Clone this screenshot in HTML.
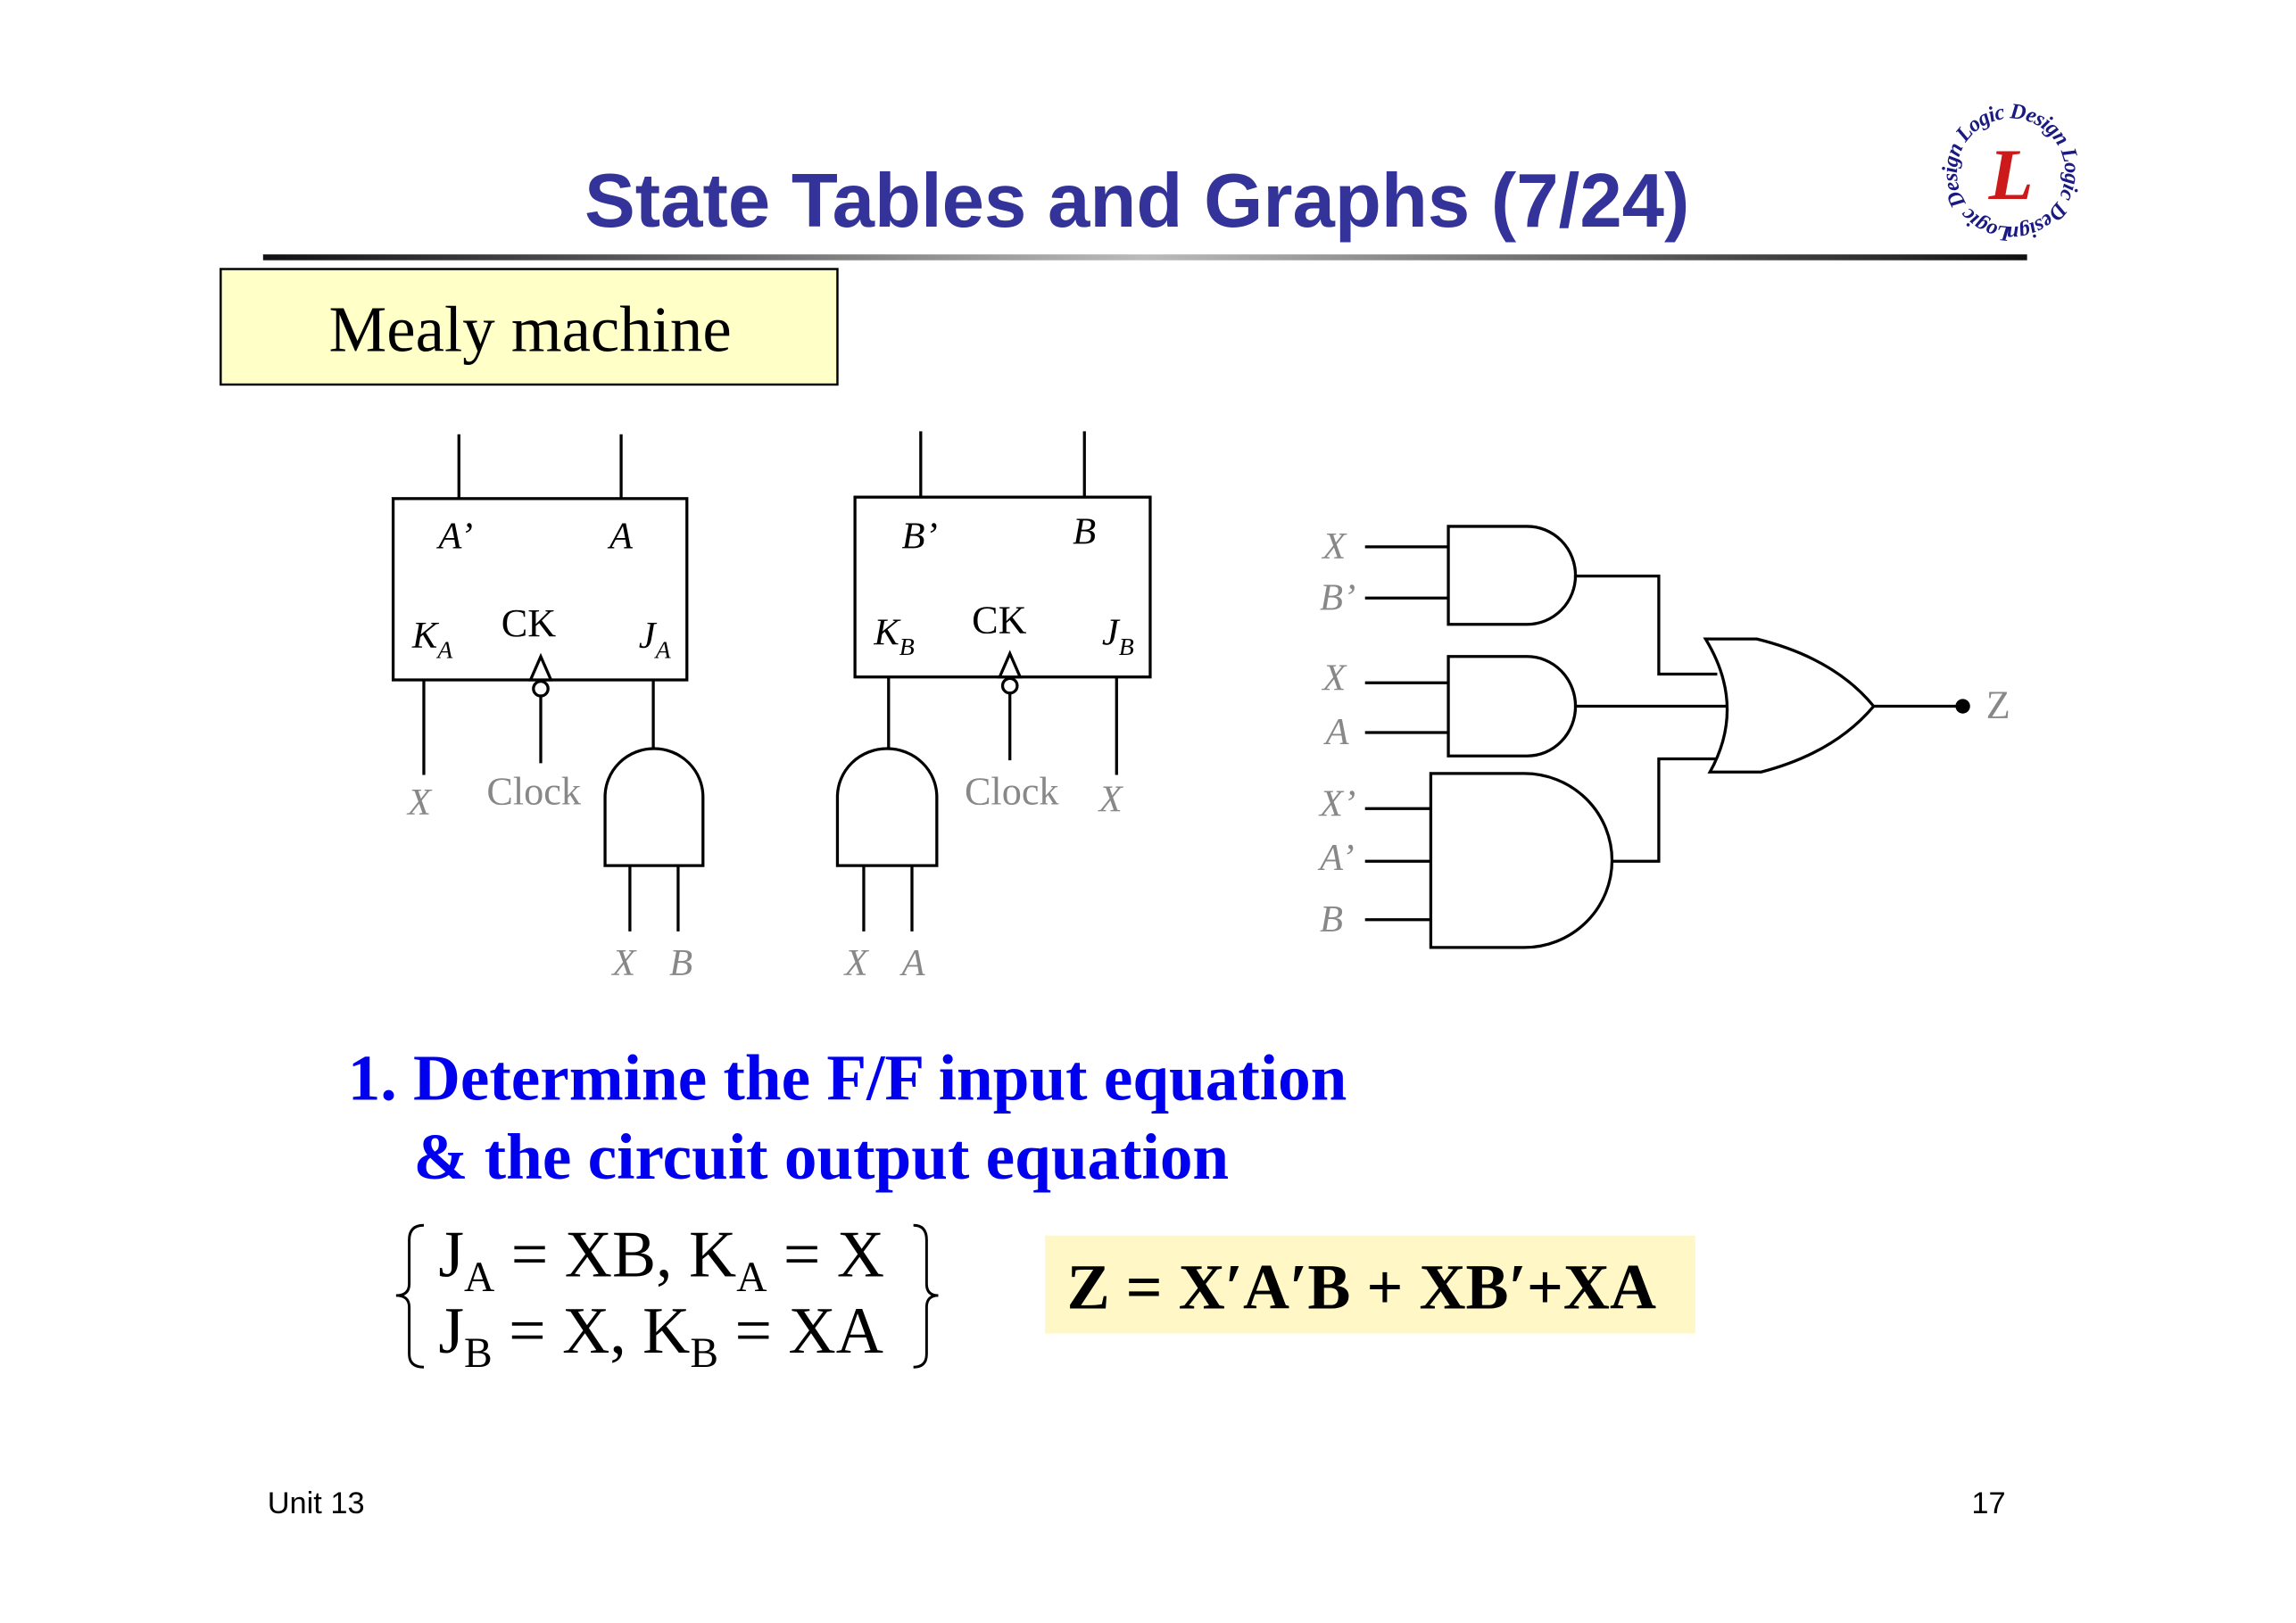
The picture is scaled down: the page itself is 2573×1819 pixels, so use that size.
<!DOCTYPE html>
<html><head><style>html,body{margin:0;padding:0;background:#fff}svg{display:block}</style></head><body>
<svg width="2573" height="1819" viewBox="0 0 1571 1110" xmlns="http://www.w3.org/2000/svg" preserveAspectRatio="none">
<defs><linearGradient id="g" x1="0" x2="1"><stop offset="0" stop-color="#111"/><stop offset="0.5" stop-color="#bbb"/><stop offset="1" stop-color="#111"/></linearGradient>
<path id="ring" d="M1376 155A37 37 0 1 1 1376 81A37 37 0 1 1 1376 155"/></defs>
<rect width="1571" height="1110" fill="#fff"/>
<text x="778" y="155" text-anchor="middle" font-family="Liberation Sans, sans-serif" font-weight="bold" font-size="52" fill="#333399">State Tables and Graphs (7/24)</text>
<rect x="180" y="174" width="1207" height="4" fill="url(#g)"/>
<!-- logo -->
<g font-family="Liberation Serif, serif" font-style="italic" fill="#1a1a80">
<text x="1376" y="136" text-anchor="middle" font-size="50" fill="#cc1a1a" font-weight="bold">L</text>
<text font-size="15" font-weight="bold" letter-spacing="-0.5"><textPath href="#ring">Logic Design Logic Design Logic Design</textPath></text>
</g>
<rect x="151" y="184" width="422" height="79" fill="#ffffc8" stroke="#000" stroke-width="1.5"/>
<text x="225" y="240" font-family="Liberation Serif, serif" font-size="44.5">Mealy machine</text>
<g stroke="#000" stroke-width="2" fill="none">
<rect x="269" y="341" width="201" height="124"/>
<path d="M314 297V341M425 297V341M290 465V530M370 476V522M447 465V512"/>
<path d="M363 465L370 449L377 465Z" fill="#fff"/><circle cx="370" cy="471" r="5" fill="#fff"/>
<path d="M414 592V545A33.5 33 0 0 1 481 545V592Z"/>
<path d="M431 592V637M464 592V637"/>
<rect x="585" y="340" width="202" height="123"/>
<path d="M630 295V340M742 295V340M608 463V512M691 474V520M764 463V530"/>
<path d="M684 463L691 447L698 463Z" fill="#fff"/><circle cx="691" cy="469" r="5" fill="#fff"/>
<path d="M573 592V545A34 33 0 0 1 641 545V592Z"/>
<path d="M591 592V637M624 592V637"/>
<path d="M991 360H1045A33 33.5 0 0 1 1045 427H991Z"/>
<path d="M991 449H1045A33 34 0 0 1 1045 517H991Z"/>
<path d="M979 529H1043A60 59.5 0 0 1 1043 648H979Z"/>
<path d="M934 374H991M934 409H991M934 467H991M934 501H991M934 553H979M934 589H979M934 629H979"/>
<path d="M1077 394H1135V461H1175M1077 483H1182M1103 589H1135V519H1175"/>
<path d="M1167 437Q1195 483 1170 528H1205Q1255 515 1282 483Q1255 450 1202 437Z" fill="#fff"/>
<path d="M1282 483H1343"/>
</g>
<circle cx="1343" cy="483" r="5" fill="#000"/>
<g font-family="Liberation Serif, serif" font-style="italic" font-size="26" fill="#000">
<text x="300" y="375">A’</text><text x="417" y="375">A</text>
<text x="282" y="443">K<tspan font-size="17" dy="7">A</tspan></text>
<text x="437" y="443">J<tspan font-size="17" dy="7">A</tspan></text>
<text x="617" y="375">B’</text><text x="734" y="372">B</text>
<text x="598" y="441">K<tspan font-size="17" dy="7">B</tspan></text>
<text x="754" y="441">J<tspan font-size="17" dy="7">B</tspan></text>
</g>
<g font-family="Liberation Serif, serif" font-size="27"><text x="343" y="435">CK</text><text x="665" y="433">CK</text></g>
<g font-family="Liberation Serif, serif" font-size="27" fill="#888">
<text x="333" y="550">Clock</text><text x="660" y="550">Clock</text>
<g font-style="italic" font-size="26">
<text x="279" y="557">X</text><text x="752" y="555">X</text>
<text x="419" y="667">X</text><text x="458" y="667">B</text>
<text x="578" y="667">X</text><text x="617" y="667">A</text>
<text x="905" y="382">X</text><text x="903" y="417">B’</text>
<text x="905" y="472">X</text><text x="907" y="509">A</text>
<text x="903" y="558">X’</text><text x="903" y="595">A’</text><text x="903" y="637">B</text>
</g>
<text x="1359" y="491">Z</text>
</g>
<g font-family="Liberation Serif, serif" font-weight="bold" font-size="44.7" fill="#0000ee">
<text x="238" y="752">1. Determine the F/F input equation</text>
<text x="283" y="806">&amp; the circuit output equation</text>
</g>
<g font-family="Liberation Serif, serif" font-size="45">
<text x="300" y="873">J<tspan font-size="29" dy="10">A</tspan><tspan dy="-10"> = XB, K</tspan><tspan font-size="29" dy="10">A</tspan><tspan dy="-10"> = X</tspan></text>
<text x="300" y="925">J<tspan font-size="29" dy="10">B</tspan><tspan dy="-10"> = X, K</tspan><tspan font-size="29" dy="10">B</tspan><tspan dy="-10"> = XA</tspan></text>
</g>
<g stroke="#000" stroke-width="1.8" fill="none">
<path d="M290 838Q280 838 280 848V878Q280 886 271 886Q280 886 280 894V926Q280 935 290 935"/>
<path d="M625 838Q634 838 634 848V878Q634 886 642 886Q634 886 634 894V926Q634 935 625 935"/>
</g>
<rect x="715" y="845" width="445" height="67" fill="#fff8c6"/>
<text x="730" y="895" font-family="Liberation Serif, serif" font-weight="bold" font-size="44">Z = X′A′B + XB′+XA</text>
<g font-family="Liberation Sans, sans-serif" font-size="21">
<text x="183" y="1035">Unit 13</text><text x="1349" y="1035">17</text>
</g>
</svg>
</body></html>
